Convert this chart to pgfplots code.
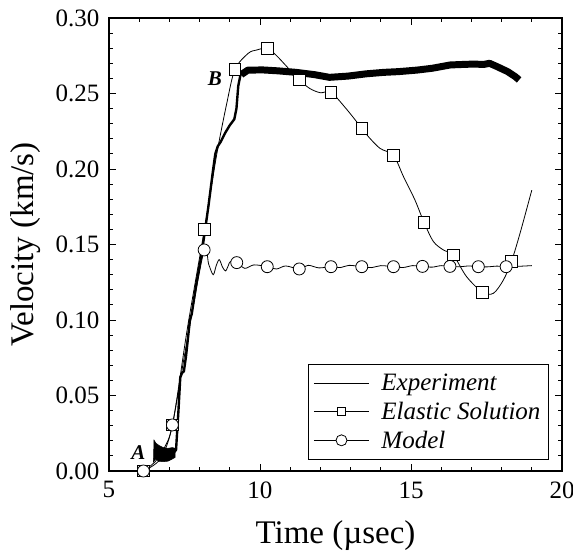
\documentclass[border=0pt]{standalone}
\usepackage{fontspec}
\setmainfont{Liberation Serif}
\usepackage{pgfplots}
\pgfplotsset{compat=1.18}

\begin{document}
\begin{tikzpicture}
\useasboundingbox (-109bp,-80bp) rectangle (464bp,471bp);
\begin{axis}[
  at={(0,0)}, anchor=south west,
  scale only axis,
  width=453bp, height=453bp,
  xmin=5, xmax=20, ymin=0, ymax=0.30,
  xtick={5,10,15,20},
  ytick={0,0.05,0.10,0.15,0.20,0.25,0.30},
  minor x tick num=4, minor y tick num=4,
  tick pos=both, tick align=inside,
  major tick length=7bp, minor tick length=4bp,
  every tick/.style={black, line width=0.9pt},
  axis line style={line width=1.1pt},
  /pgf/number format/assume math mode=true,
  tick label style={font=\fontsize{25bp}{29bp}\selectfont},
  x tick label style={yshift=-7bp},
  y tick label style={xshift=-6bp, /pgf/number format/.cd, fixed, fixed zerofill, precision=2, /tikz/.cd},
  xlabel={Time (µsec)}, ylabel={Velocity (km/s)},
  label style={font=\fontsize{33bp}{38bp}\selectfont},
  xlabel style={at={(axis description cs:0.5,-0.159)}, anchor=base},
  ylabel style={at={(axis description cs:-0.166,0.5)}, anchor=base},
  legend image code/.code={\draw[mark repeat=2, mark phase=2, #1] plot coordinates {(0bp,0bp) (27.5bp,0bp) (55bp,0bp)};},
  legend cell align=left,
  legend style={at={(rel axis cs:0.971,0.024)}, anchor=south east,
    draw=black, line width=0.8pt,
    font=\fontsize{25bp}{29bp}\selectfont\itshape,
    inner xsep=5bp, inner ysep=7bp, row sep=4bp, column sep=9bp,
    nodes={inner sep=3bp}},
]
% Experiment: early oscillation band
\addplot[fill=black, draw=black, line width=0.5pt, forget plot] coordinates {
  (6.47,0.006) (6.49,0.0205) (6.55,0.0185) (6.65,0.0170) (6.80,0.0155)
  (6.95,0.0150) (7.10,0.0155) (7.19,0.0150) (7.19,0.0090) (7.10,0.0080)
  (6.95,0.0065) (6.80,0.0062) (6.65,0.0064) (6.55,0.0080) (6.47,0.0060)
} -- cycle;
% Experiment: rise
\addplot[black, line width=2.4pt, line join=round, forget plot] coordinates {
  (7.12,0.0115) (7.22,0.014) (7.30,0.040) (7.36,0.062) (7.42,0.065)
  (7.48,0.066) (7.55,0.076) (7.68,0.100) (7.74,0.104) (7.90,0.125)
  (8.07,0.144) (8.29,0.175) (8.45,0.200) (8.52,0.210) (8.60,0.215)
  (8.70,0.218) (8.85,0.224) (9.00,0.229) (9.15,0.233) (9.22,0.240)
  (9.28,0.255) (9.35,0.262) (9.45,0.265)
};
% Experiment: plateau
\addplot[black, line width=7pt, line join=round, forget plot] coordinates {
  (9.38,0.2625) (9.60,0.2655) (10.10,0.2656) (10.60,0.2650) (11.20,0.2640)
  (11.80,0.2625) (12.30,0.2607) (12.90,0.2615) (13.50,0.2630) (14.10,0.2640)
  (14.60,0.2645) (15.20,0.2655) (15.70,0.2667) (16.30,0.2689) (16.80,0.2693)
  (17.10,0.2695) (17.40,0.2692) (17.60,0.2700) (17.85,0.2678) (18.20,0.2645)
  (18.45,0.2612) (18.58,0.2590)
};
% Elastic solution
\addplot[black, line width=0.8pt, smooth, tension=0.5, forget plot] coordinates {
  (6.14,0.000) (6.70,0.008) (7.10,0.0305) (7.60,0.095) (8.16,0.160)
  (8.57,0.210) (8.90,0.2435) (9.17,0.266) (9.61,0.2766) (9.89,0.2788)
  (10.24,0.280) (10.55,0.275) (10.88,0.268) (11.30,0.259) (11.65,0.2533)
  (12.00,0.2505) (12.35,0.2508) (12.85,0.240) (13.37,0.227) (13.59,0.2214)
  (13.97,0.2137) (14.42,0.209) (14.75,0.195) (15.13,0.1795) (15.43,0.1647)
  (15.74,0.152) (16.07,0.1464) (16.40,0.143) (16.84,0.1287) (17.37,0.1183)
  (17.73,0.1177) (18.06,0.1265) (18.33,0.139) (18.61,0.1574) (19.00,0.186)
};
\addplot[only marks, mark=square*, mark size=5.8bp,
  mark options={fill=white, draw=black, line width=0.8pt}, forget plot] coordinates {
  (6.14,0.000) (7.10,0.0305) (8.16,0.160) (9.17,0.266) (10.24,0.280)
  (11.30,0.259) (12.35,0.2508) (13.37,0.227) (14.42,0.209) (15.43,0.1647)
  (16.40,0.143) (17.37,0.1183) (18.33,0.139)
};
% Model
\addplot[black, line width=0.8pt, smooth, tension=0.5, forget plot] coordinates {
  (6.14,0.000) (6.52,0.006) (6.85,0.016) (7.10,0.0305) (7.60,0.088)
  (8.15,0.1464) (8.30,0.137) (8.45,0.130) (8.55,0.136) (8.65,0.140)
  (8.76,0.135) (8.86,0.1325) (8.95,0.136) (9.02,0.1387) (9.23,0.138)
  (9.50,0.1342) (9.80,0.1365) (10.24,0.1353) (10.55,0.1338) (10.85,0.1358)
  (11.30,0.1338) (11.60,0.1362) (11.95,0.1345) (12.35,0.1353) (12.65,0.1347)
  (12.95,0.1362) (13.37,0.1353) (13.70,0.1347) (14.00,0.1360) (14.42,0.1353)
  (14.75,0.1348) (15.05,0.1360) (15.38,0.1355) (15.70,0.1350) (16.00,0.1360)
  (16.29,0.1355) (16.60,0.1352) (16.90,0.1358) (17.23,0.1353) (17.55,0.1352)
  (17.85,0.1357) (18.15,0.1353) (18.50,0.1355) (19.00,0.1360)
};
\addplot[only marks, mark=*, mark size=6bp,
  mark options={fill=white, draw=black, line width=0.8pt}, forget plot] coordinates {
  (6.14,0.000) (7.10,0.0305) (8.15,0.1464) (9.23,0.138) (10.24,0.1353)
  (11.30,0.1338) (12.35,0.1353) (13.37,0.1353) (14.42,0.1353) (15.38,0.1355)
  (16.29,0.1355) (17.23,0.1353) (18.15,0.1353)
};
\addlegendimage{black, line width=0.9pt}
\addlegendentry{Experiment}
\addlegendimage{black, line width=0.8pt, mark=square*, mark size=4.2bp, mark options={fill=white}}
\addlegendentry{Elastic Solution}
\addlegendimage{black, line width=0.8pt, mark=*, mark size=5.5bp, mark options={fill=white}}
\addlegendentry{Model}
\node[font=\fontsize{21bp}{24bp}\selectfont\bfseries\itshape] at (axis cs:5.97,0.0123) {A};
\node[font=\fontsize{21bp}{24bp}\selectfont\bfseries\itshape] at (axis cs:8.51,0.260) {B};
\end{axis}
\end{tikzpicture}
\end{document}
